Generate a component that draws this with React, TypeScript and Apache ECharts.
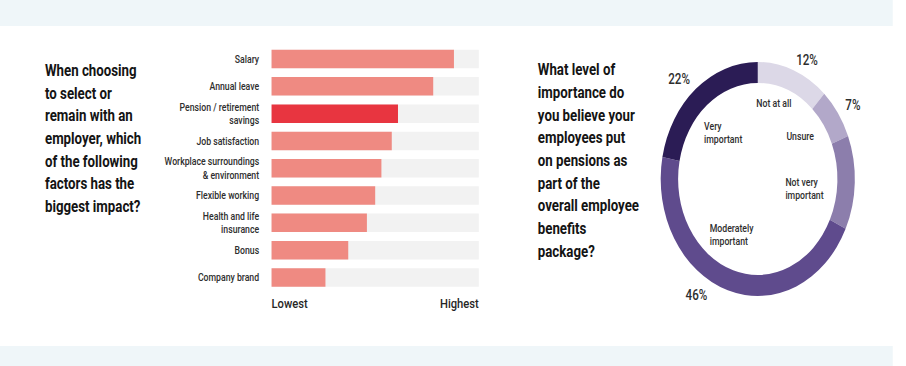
import React, { useEffect, useRef } from "react";
import * as echarts from "echarts";

// ---- data ----
const factorCategories = [
  "Salary",
  "Annual leave",
  "Pension / retirement\nsavings",
  "Job satisfaction",
  "Workplace surroundings\n& environment",
  "Flexible working",
  "Health and life\ninsurance",
  "Bonus",
  "Company brand",
];
const factorScores = [88, 78, 61, 58, 53, 50, 46, 37, 26];
const highlightedFactor = "Pension / retirement\nsavings";
const scaleTickLabels = ["Lowest", "Highest"];

const importanceCategories = [
  "Not at all",
  "Unsure",
  "Not very\nimportant",
  "Moderately\nimportant",
  "Very\nimportant",
];
const importanceShares = [12, 7, 13, 46, 22];

const leftQuestion = [
  "When choosing",
  "to select or",
  "remain with an",
  "employer, which",
  "of the following",
  "factors has the",
  "biggest impact?",
];
const rightQuestion = [
  "What level of",
  "importance do",
  "you believe your",
  "employees put",
  "on pensions as",
  "part of the",
  "overall employee",
  "benefits",
  "package?",
];

// ---- layout (unscaled coordinates; the whole picture is squeezed horizontally) ----
const PAGE_W = 906;
const PAGE_H = 366;
const SQUEEZE = 0.8297;
const CHART_W = Math.round(PAGE_W / SQUEEZE);

const importanceColors = ["#dcd8e7", "#b2a8c9", "#8c7eac", "#5f4b8d", "#2b1c55"];
const namePositions: [number, number][] = [
  [911.6, 103.3],
  [947.8, 136],
  [946.6, 188.4],
  [855.4, 235],
  [848.6, 132.7],
];
const pctPositions: [number, number][] = [
  [972.7, 59.7],
  [1028, 105],
  [1055.4, 186.7],
  [839.4, 295],
  [818.5, 79],
];

const FONT = "Roboto, 'Noto Sans', sans-serif";

export default function App() {
  const ref = useRef<HTMLDivElement>(null);

  useEffect(() => {
    if (!ref.current) return;
    const chart = echarts.init(ref.current, null, { renderer: "svg" });
    const LH = 22.67;

    const graphic: any[] = [
      {
        type: "rect",
        shape: { x: 0, y: 0, width: 1076, height: 26 },
        style: { fill: "#eff6f9" },
        silent: true,
      },
      {
        type: "rect",
        shape: { x: 0, y: 346, width: 1076, height: 20 },
        style: { fill: "#eff6f9" },
        silent: true,
      },
      {
        type: "text",
        x: 54.2,
        y: 70.7 + ((leftQuestion.length - 1) * LH) / 2,
        style: {
          text: leftQuestion.join("\n"),
          font: `bold 16px ${FONT}`,
          fill: "#141414",
          lineHeight: LH,
          verticalAlign: "middle",
          align: "left",
        },
        silent: true,
      },
      {
        type: "text",
        x: 648.2,
        y: 70 + ((rightQuestion.length - 1) * LH) / 2,
        style: {
          text: rightQuestion.join("\n"),
          font: `bold 16px ${FONT}`,
          fill: "#141414",
          lineHeight: LH,
          verticalAlign: "middle",
          align: "left",
        },
        silent: true,
      },
    ];

    importanceCategories.forEach((name, i) => {
      graphic.push({
        type: "text",
        x: namePositions[i][0],
        y: namePositions[i][1],
        style: {
          text: name,
          font: `500 10.5px ${FONT}`,
          fill: "#2e2e2e",
          lineHeight: 13.3,
          align: "left",
          verticalAlign: "middle",
        },
        silent: true,
      });
    });

    chart.setOption({
      animation: false,
      backgroundColor: "#ffffff",
      graphic,
      grid: {
        left: 327.3,
        top: 45.4,
        width: 249.8,
        height: 245.7,
        containLabel: false,
      },
      xAxis: {
        type: "value",
        min: 0,
        max: 100,
        interval: 100,
        axisLine: { show: false },
        axisTick: { show: false },
        splitLine: { show: false },
        axisLabel: {
          show: true,
          margin: 5,
          fontSize: 13.5,
          fontFamily: FONT,
          fontWeight: 500,
          color: "#262626",
          alignMinLabel: "left",
          alignMaxLabel: "right",
          formatter: (v: number) =>
            v === 0 ? scaleTickLabels[0] : scaleTickLabels[1],
        },
      },
      yAxis: {
        type: "category",
        inverse: true,
        data: factorCategories,
        axisLine: { show: false },
        axisTick: { show: false },
        axisLabel: {
          margin: 15,
          fontSize: 10.5,
          lineHeight: 13.3,
          fontFamily: FONT,
          fontWeight: 500,
          color: "#2e2e2e",
          align: "right",
        },
      },
      series: [
        {
          type: "bar",
          barWidth: 18.5,
          showBackground: true,
          backgroundStyle: { color: "#f2f2f2" },
          silent: true,
          data: factorScores.map((v, i) => ({
            value: v,
            itemStyle: {
              color:
                factorCategories[i] === highlightedFactor ? "#e83540" : "#ef8a82",
            },
          })),
        },
        {
          type: "pie",
          center: [913.3, 179],
          radius: [96, 117],
          startAngle: 90,
          clockwise: true,
          silent: true,
          emphasis: { disabled: true },
          label: {
            show: true,
            position: "outside",
            formatter: "{c}%",
            fontSize: 14,
            fontFamily: FONT,
            fontWeight: 500,
            color: "#2e2e2e",
          },
          labelLine: { show: false },
          labelLayout: (p: any) => ({
            x: pctPositions[p.dataIndex][0],
            y: pctPositions[p.dataIndex][1],
            align: "center",
            verticalAlign: "middle",
          }),
          data: importanceShares.map((v, i) => ({
            value: v,
            name: importanceCategories[i],
            itemStyle: { color: importanceColors[i] },
          })),
        },
      ],
    });

    return () => chart.dispose();
  }, []);

  return (
    <div
      style={{
        position: "absolute",
        left: 0,
        top: 0,
        width: PAGE_W,
        height: PAGE_H,
        overflow: "hidden",
        background: "#fff",
      }}
    >
      <div
        ref={ref}
        style={{
          width: CHART_W,
          height: PAGE_H,
          transform: `scaleX(${SQUEEZE})`,
          transformOrigin: "0 0",
        }}
      />
    </div>
  );
}
